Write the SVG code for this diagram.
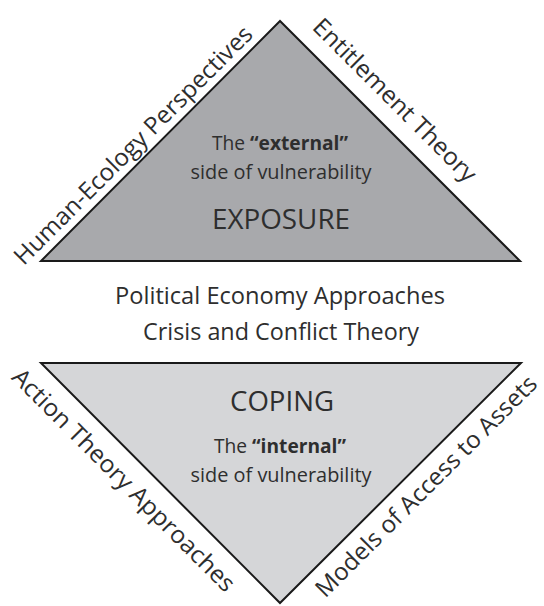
<svg xmlns="http://www.w3.org/2000/svg" width="544" height="606" viewBox="0 0 544 606">
<style>
.t{font-family:"Open Sans","Noto Sans","Liberation Sans",sans-serif;fill:#2e2e2e;}
.tri{stroke:#1a1a1a;stroke-width:2;stroke-linejoin:miter;}
</style>
<rect width="544" height="606" fill="#fff"/>
<g id="exposure">
<polygon class="tri" points="280,21 41,261 520,261" fill="#a8a9ac"/>
<text class="t" x="280" y="150" font-size="20" text-anchor="middle" textLength="136" lengthAdjust="spacingAndGlyphs">The <tspan font-weight="bold">“external”</tspan></text>
<text class="t" x="281" y="179" font-size="20" text-anchor="middle" textLength="181" lengthAdjust="spacingAndGlyphs">side of vulnerability</text>
<text class="t" x="281" y="229" font-size="28" text-anchor="middle" textLength="138" lengthAdjust="spacingAndGlyphs">EXPOSURE</text>
</g>
<g id="coping">
<polygon class="tri" points="41,363 521,363 280,603" fill="#d5d6d8"/>
<text class="t" x="282" y="411" font-size="28" text-anchor="middle" textLength="104" lengthAdjust="spacingAndGlyphs">COPING</text>
<text class="t" x="280" y="453" font-size="20" text-anchor="middle" textLength="132" lengthAdjust="spacingAndGlyphs">The <tspan font-weight="bold">“internal”</tspan></text>
<text class="t" x="281" y="482" font-size="20" text-anchor="middle" textLength="181" lengthAdjust="spacingAndGlyphs">side of vulnerability</text>
</g>
<g id="middle">
<text class="t" x="280" y="304" font-size="23" text-anchor="middle" textLength="330" lengthAdjust="spacingAndGlyphs">Political Economy Approaches</text>
<text class="t" x="281" y="340" font-size="23" text-anchor="middle" textLength="276" lengthAdjust="spacingAndGlyphs">Crisis and Conflict Theory</text>
</g>
<g id="labels">
<text class="t" font-size="24" text-anchor="middle" textLength="326" lengthAdjust="spacingAndGlyphs" transform="translate(139,151) rotate(-45)">Human-Ecology Perspectives</text>
<text class="t" font-size="24" text-anchor="middle" textLength="220" lengthAdjust="spacingAndGlyphs" transform="translate(389,106) rotate(45)">Entitlement Theory</text>
<text class="t" font-size="24" text-anchor="middle" textLength="304" lengthAdjust="spacingAndGlyphs" transform="translate(118,486) rotate(45)">Action Theory Approaches</text>
<text class="t" font-size="24" text-anchor="middle" textLength="302" lengthAdjust="spacingAndGlyphs" transform="translate(432,492) rotate(-45)">Models of Access to Assets</text>
</g>
</svg>
